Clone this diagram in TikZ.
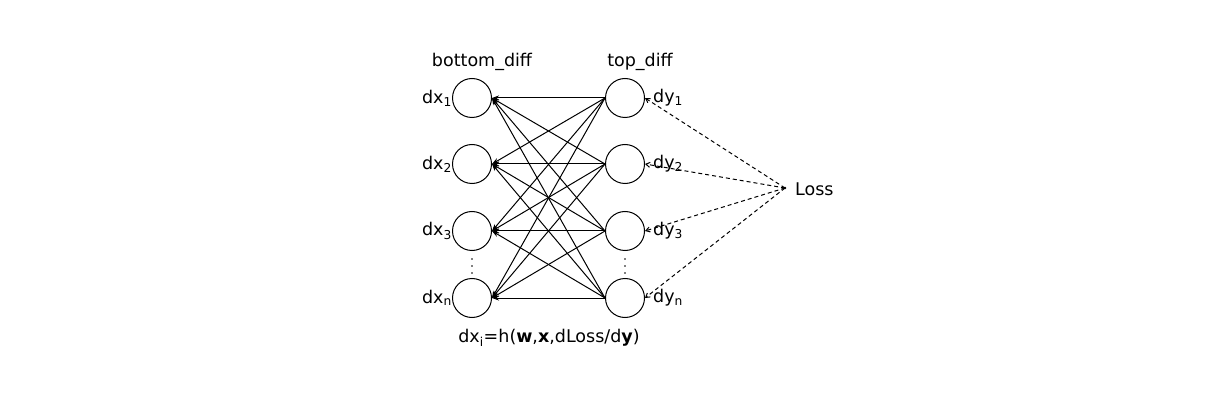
\documentclass[tikz,border=0pt]{standalone}
\usepackage{fontspec}
\setmainfont{DejaVu Sans}
\usetikzlibrary{arrows.meta}
\begin{document}
\begin{tikzpicture}[x=1pt,y=-1pt,
  neuron/.style={draw,circle,line width=1pt,minimum size=39pt,inner sep=0pt},
  lbl/.style={font=\fontsize{17.5}{20}\selectfont,inner sep=1pt},
  wire/.style={line width=1pt,-{Stealth[length=7pt,width=5pt]}},
  lossarrow/.style={line width=1pt,dashed,dash pattern=on 4pt off 3pt,-{Straight Barb[length=4pt,width=5pt]}}]
\useasboundingbox (0,0) rectangle (1221,406);
\fill[white] (0,0) rectangle (1221,406);
\foreach \i/\y in {1/98,2/164,3/231,4/298}{
  \node[neuron] (L\i) at (472,\y) {};
  \node[neuron] (R\i) at (625,\y) {};
}
\node[lbl] (bt) at (482,62) {bottom\_diff};
\node[lbl] (tp) at (640,62) {top\_diff};
\node[lbl,anchor=east,inner sep=0pt] (dx1) at (L1.west) {dx\textsubscript{1}};
\node[lbl,anchor=east,inner sep=0pt] (dx2) at (L2.west) {dx\textsubscript{2}};
\node[lbl,anchor=east,inner sep=0pt] (dx3) at (L3.west) {dx\textsubscript{3}};
\node[lbl,anchor=east,inner sep=0pt] (dxn) at (L4.west) {dx\textsubscript{n}};
\foreach \i in {1,...,4}{
  \foreach \j in {1,...,4}{
    \draw[wire] (R\j.west) -- (L\i.east);
  }
}
\coordinate (loss) at (785,188);
\fill (loss) circle (1.4pt);
\node[lbl,anchor=west] (losslbl) at (794,189) {Loss};
\foreach \j in {1,...,4}{
  \draw[lossarrow] (loss) -- (R\j.east);
}
\node[lbl,anchor=west,inner sep=0pt] (dy1) at ([xshift=8pt]R1.east) {dy\textsubscript{1}};
\node[lbl,anchor=west,inner sep=0pt] (dy2) at ([xshift=8pt]R2.east) {dy\textsubscript{2}};
\node[lbl,anchor=west,inner sep=0pt] (dy3) at ([xshift=8pt]R3.east) {dy\textsubscript{3}};
\node[lbl,anchor=west,inner sep=0pt] (dyn) at ([xshift=8pt]R4.east) {dy\textsubscript{n}};
\foreach \x in {472,625}{
  \foreach \yy in {259,266,273}{
    \fill (\x,\yy) circle (0.8pt);
  }
}
\node[lbl] (eq) at (549,338) {dx\textsubscript{i}=h(\textbf{w},\textbf{x},dLoss/d\textbf{y})};
\end{tikzpicture}
\end{document}
